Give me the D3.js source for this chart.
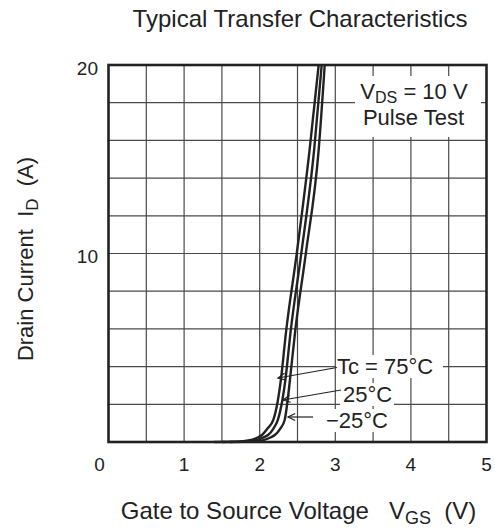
<!DOCTYPE html>
<html><head><meta charset="utf-8">
<script src="https://cdn.jsdelivr.net/npm/d3@7"></script>
<style>body{margin:0;background:#fff}svg{display:block}text{font-family:"Liberation Sans",Arial,sans-serif;fill:#222;white-space:pre}</style>
</head><body><svg id="c" width="495" height="529"></svg>
<script>
// Data
const xTickLabels = [0, 1, 2, 3, 4, 5];
const yTickLabels = [10, 20];
const xGrid = [0.5, 1, 1.5, 2, 2.5, 3, 3.5, 4, 4.5];
const yGrid = [2, 4, 6, 8, 10, 12, 14, 16, 18];
const seriesNames = ["Tc = 75°C", "25°C", "−25°C"];
const vgs75 = [1.4, 1.7, 1.85, 1.95, 2.03, 2.1, 2.18, 2.24, 2.28, 2.35, 2.49, 2.66, 2.78];
const id75  = [0, 0.02, 0.08, 0.2, 0.37, 0.7, 1.17, 2.2, 3.3, 5.9, 10, 15.5, 20];
const vgs25 = [1.5, 1.8, 1.95, 2.05, 2.11, 2.18, 2.24, 2.30, 2.34, 2.41, 2.55, 2.72, 2.82];
const id25  = [0, 0.02, 0.1, 0.25, 0.37, 0.7, 1.17, 2.23, 3.3, 5.9, 10, 15.5, 20];
const vgsM25 = [1.6, 1.9, 2.05, 2.15, 2.2, 2.27, 2.33, 2.37, 2.40, 2.47, 2.61, 2.78, 2.86];
const idM25  = [0, 0.02, 0.1, 0.25, 0.37, 0.7, 1.17, 2.23, 3.3, 5.9, 10, 15.5, 20];

const svg = d3.select("#c");
const L = 108.5, R = 486.5, T = 65, B = 442;
const x = d3.scaleLinear().domain([0, 5]).range([L, R]);
const y = d3.scaleLinear().domain([0, 20]).range([B, T]);

// grid
const g = svg.append("g");
g.selectAll(".vg").data(xGrid).join("line")
  .attr("x1", d => x(d)).attr("x2", d => x(d)).attr("y1", T).attr("y2", B)
  .attr("stroke", "#4a4a4a").attr("stroke-width", 1.2);
g.selectAll(".hg").data(yGrid).join("line")
  .attr("y1", d => y(d)).attr("y2", d => y(d)).attr("x1", L).attr("x2", R)
  .attr("stroke", "#4a4a4a").attr("stroke-width", 1.2);

// white backgrounds behind annotations
svg.append("rect").attr("x", 355).attr("y", 76).attr("width", 126).attr("height", 61).attr("fill", "#fff");
svg.append("rect").attr("x", 336).attr("y", 355).attr("width", 107).attr("height", 23).attr("fill", "#fff");
svg.append("rect").attr("x", 340).attr("y", 383).attr("width", 54).attr("height", 23).attr("fill", "#fff");
svg.append("rect").attr("x", 322).attr("y", 409).attr("width", 68).attr("height", 23).attr("fill", "#fff");

// curves
const line = d3.line().x(d => x(d[0])).y(d => y(d[1])).curve(d3.curveMonotoneX);
const curves = [d3.zip(vgs75, id75), d3.zip(vgs25, id25), d3.zip(vgsM25, idM25)];
svg.selectAll(".crv").data(curves).join("path")
  .attr("d", line).attr("fill", "none").attr("stroke", "#222").attr("stroke-width", 2.4);

// frame
svg.append("rect").attr("x", L).attr("y", T).attr("width", R - L).attr("height", B - T)
  .attr("fill", "none").attr("stroke", "#222").attr("stroke-width", 2.6);

// axes labels
svg.selectAll(".xt").data(xTickLabels).join("text")
  .attr("x", d => d === 0 ? x(d) - 9 : x(d)).attr("y", 471)
  .attr("text-anchor", "middle").attr("font-size", 19).text(d => d);
svg.selectAll(".yt").data(yTickLabels).join("text")
  .attr("x", 98).attr("y", d => y(d) + 9.5)
  .attr("text-anchor", "end").attr("font-size", 19).text(d => d);

const FS = 22;
// title
svg.append("text").attr("x", 300).attr("y", 27).attr("text-anchor", "middle")
  .attr("font-size", 24).text("Typical Transfer Characteristics");

// x axis title
const xt = svg.append("text").attr("x", 298.5).attr("y", 519).attr("text-anchor", "middle").attr("font-size", 24);
xt.append("tspan").text("Gate to Source Voltage   V");
xt.append("tspan").attr("font-size", 18).attr("dy", 5).text("GS");
xt.append("tspan").attr("dy", -5).text("  (V)");

// y axis title
const yt = svg.append("text").attr("transform", "translate(33,259) rotate(-90)")
  .attr("text-anchor", "middle").attr("font-size", 22);
yt.append("tspan").text("Drain Current  I");
yt.append("tspan").attr("font-size", 17).attr("dy", 5).text("D");
yt.append("tspan").attr("dy", -5).text("  (A)");

// conditions
const c1 = svg.append("text").attr("x", 414).attr("y", 99).attr("text-anchor", "middle").attr("font-size", FS);
c1.append("tspan").text("V");
c1.append("tspan").attr("font-size", 16).attr("dy", 4).text("DS");
c1.append("tspan").attr("dy", -4).text(" = 10 V");
svg.append("text").attr("x", 413.5).attr("y", 125).attr("text-anchor", "middle").attr("font-size", FS).text("Pulse Test");

// series labels with arrows
const labelPos = [[337, 374], [343, 402], [326, 428]];
svg.selectAll(".sl").data(seriesNames).join("text")
  .attr("x", (d, i) => labelPos[i][0]).attr("y", (d, i) => labelPos[i][1])
  .attr("font-size", FS).text(d => d);

const arrows = [[337, 367.5, 278, 378], [341, 390, 283, 400], [313, 417, 288, 417]];
arrows.forEach(a => {
  const [x1, y1, x2, y2] = a;
  svg.append("line").attr("x1", x1).attr("y1", y1).attr("x2", x2).attr("y2", y2)
    .attr("stroke", "#222").attr("stroke-width", 1.2);
  const ang = Math.atan2(y1 - y2, x1 - x2);
  const len = 8, spread = 0.45;
  const p = d3.path();
  p.moveTo(x2 + len * Math.cos(ang + spread), y2 + len * Math.sin(ang + spread));
  p.lineTo(x2, y2);
  p.lineTo(x2 + len * Math.cos(ang - spread), y2 + len * Math.sin(ang - spread));
  svg.append("path").attr("d", p.toString()).attr("fill", "none").attr("stroke", "#222").attr("stroke-width", 1.2);
});
</script></body></html>
